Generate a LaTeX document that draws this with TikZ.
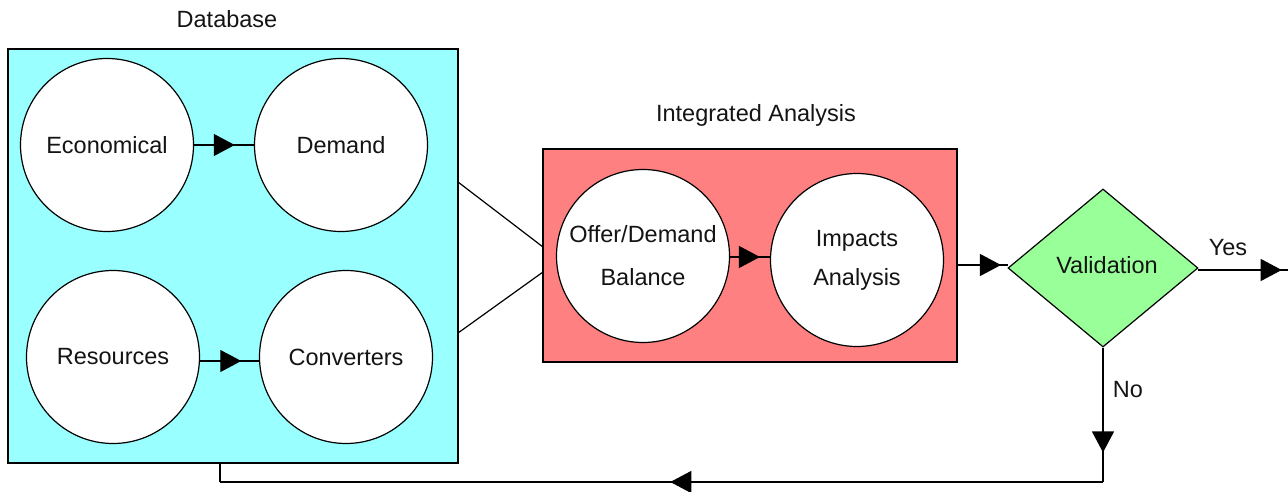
\documentclass[tikz,border=0pt]{standalone}
\usepackage{fontspec}
\setmainfont{Liberation Sans}
\usetikzlibrary{arrows.meta,shapes.geometric,decorations.markings}
\definecolor{dbcyan}{RGB}{153,255,255}
\definecolor{iared}{RGB}{255,128,128}
\definecolor{valgreen}{RGB}{153,255,153}
\definecolor{txt}{RGB}{20,20,20}
\tikzset{
  lbl/.style={font=\fontsize{23.5}{27}\selectfont, text=txt, inner sep=0pt},
  bubble/.style={circle, draw=black, line width=1.2pt, fill=white, minimum size=173pt, inner sep=0pt, align=center, font=\fontsize{23.5}{27}\selectfont, text=txt},
  panel/.style={draw=black, line width=1.4pt},
  conn/.style={draw=black, line width=1.2pt},
  midarrow/.style={postaction={decorate}, decoration={markings, mark=at position #1 with {\arrow{Triangle[length=21pt,width=22pt]}}}}
}
\begin{document}
\begin{tikzpicture}[x=1pt,y=-1pt]
\useasboundingbox (0,0) rectangle (1288,492);
% panels
\node[panel, fill=dbcyan, minimum width=450pt, minimum height=414pt, inner sep=0pt] (db) at (233,256) {};
\node[panel, fill=iared, minimum width=414pt, minimum height=213pt, inner sep=0pt] (ia) at (750,255.5) {};
\node[lbl] (dbt) at (227,19) {Database};
\node[lbl] (iat) at (756,115) {Integrated Analysis};
% circles
\node[bubble] (eco) at (107,145) {Economical};
\node[bubble] (dem) at (341,145) {Demand};
\node[bubble] (res) at (113,357) {Resources};
\node[bubble] (conv) at (346,357) {Converters};
\node[bubble] (off) at (643,256) {Offer/Demand\\[16pt]Balance};
\node[bubble] (imp) at (857,260) {Impacts\\[12pt]Analysis};
% diamond
\node[diamond, draw=black, line width=1.2pt, fill=valgreen, minimum width=190pt, minimum height=158pt, inner sep=0pt, aspect=1.2] (val) at (1103,268) {};
\node[lbl] (valt) at (1107,265) {Validation};
% labels
\node[lbl] (yes) at (1228,248) {Yes};
\node[lbl] (no) at (1128,390) {No};
% connectors inside
\draw[conn, midarrow=0.68] (eco.east) -- (dem.west);
\draw[conn, midarrow=0.7] (res.east |- 0,361) -- (conv.west |- 0,361);
\draw[conn, midarrow=0.75] (off.east |- 0,257) -- (imp.west |- 0,257);
% database to integrated analysis
\coordinate (d1) at (458,182);
\coordinate (d2) at (458,333);
\coordinate (i1) at (543,247);
\coordinate (i2) at (543,272);
\draw[conn] (d1) -- (i1);
\draw[conn] (d2) -- (i2);
% to validation
\coordinate (vin) at (1008,265);
\coordinate (vout) at (1198,270);
\draw[conn, midarrow=0.86] (ia.east |- vin) -- (vin);
% yes
\coordinate (yend) at (1288,270);
\draw[conn, midarrow=0.93] (vout) -- (yend);
% no loop
\coordinate (c1) at (1103,482);
\coordinate (c2) at (220,482);
\draw[conn, midarrow=0.78] (val.south) -- (c1);
\draw[conn, midarrow=0.49] (c1) -- (c2);
\draw[conn] (c2) -- (db.south -| c2);
\end{tikzpicture}
\end{document}
